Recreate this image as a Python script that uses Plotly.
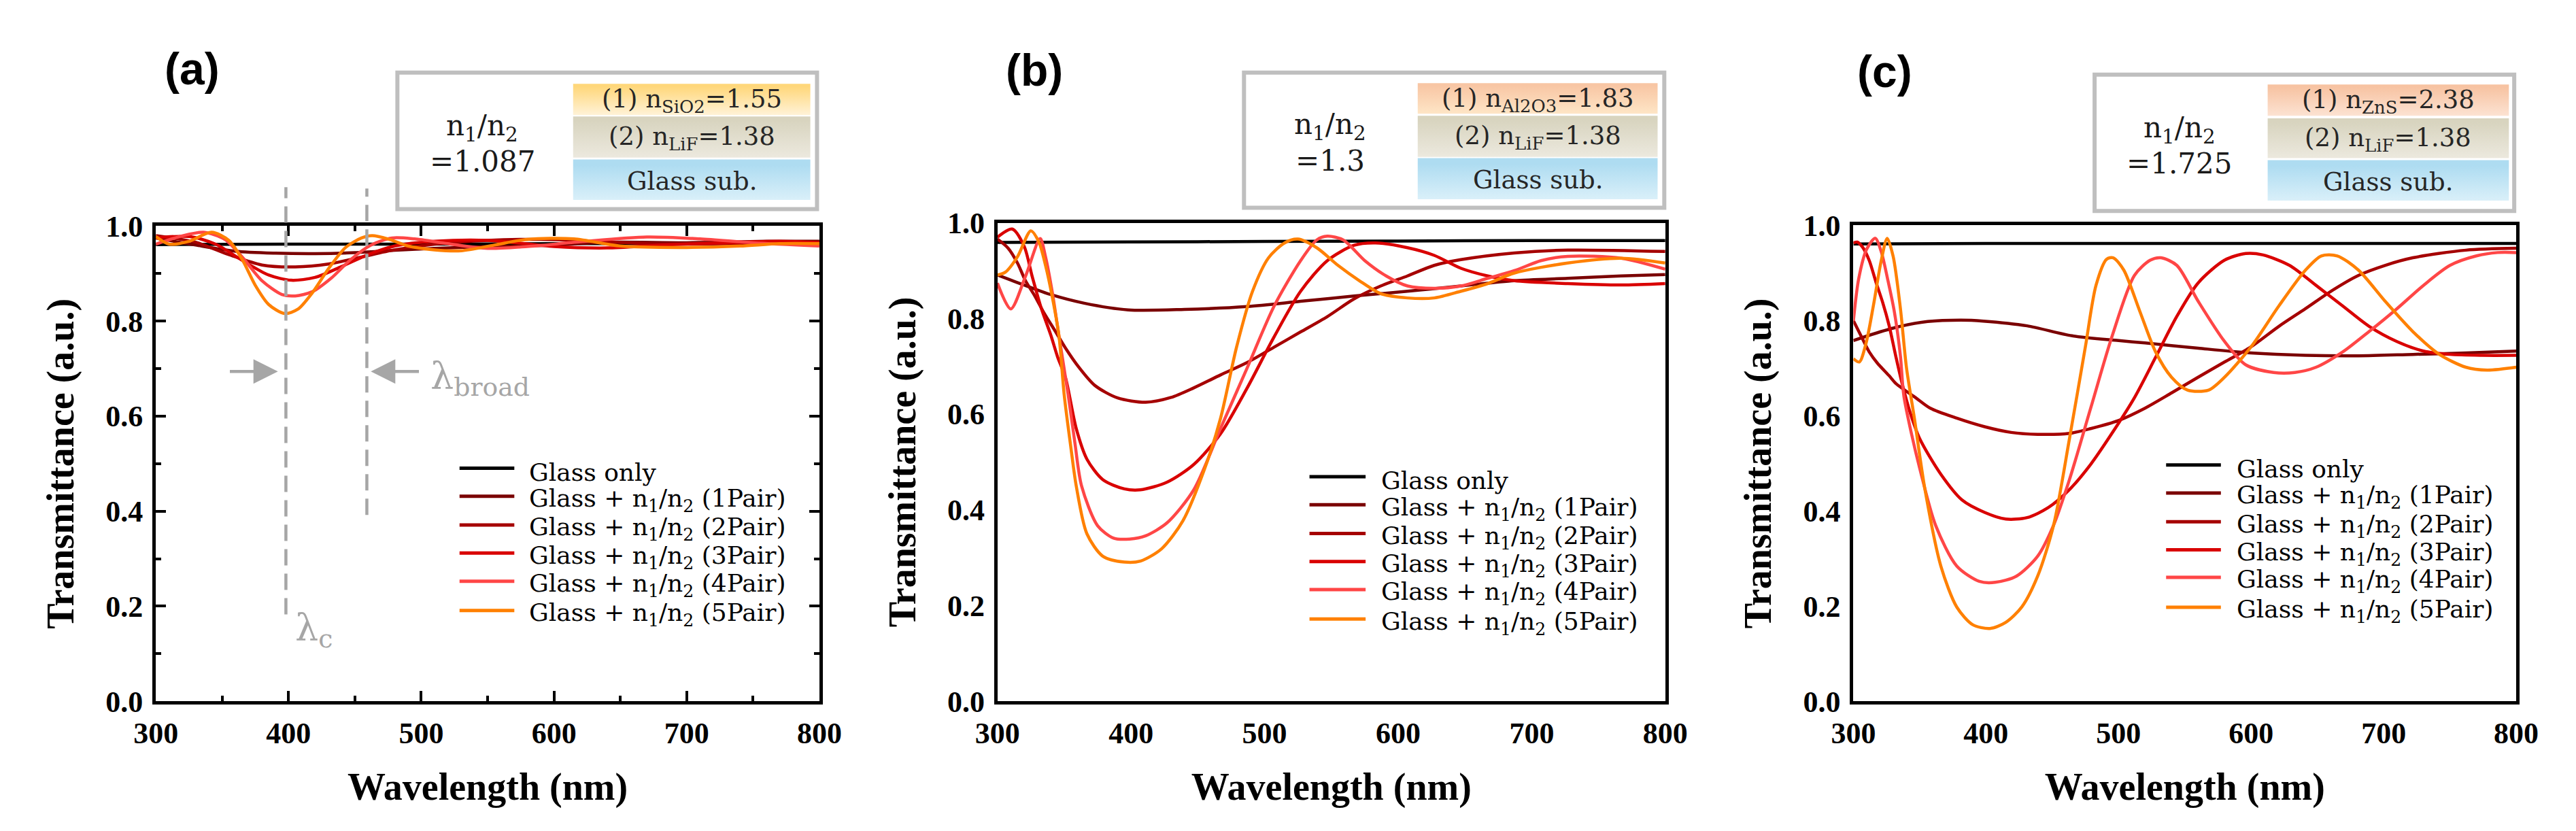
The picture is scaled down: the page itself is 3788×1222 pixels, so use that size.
import plotly.graph_objects as go

W, H = 3788, 1222

# ---------------- data ----------------
wavelength_ticks = [300, 400, 500, 600, 700, 800]
transmittance_ticks = [0.0, 0.2, 0.4, 0.6, 0.8, 1.0]

series_names = [
    "Glass only",
    "Glass + n<sub>1</sub>/n<sub>2</sub> (1Pair)",
    "Glass + n<sub>1</sub>/n<sub>2</sub> (2Pair)",
    "Glass + n<sub>1</sub>/n<sub>2</sub> (3Pair)",
    "Glass + n<sub>1</sub>/n<sub>2</sub> (4Pair)",
    "Glass + n<sub>1</sub>/n<sub>2</sub> (5Pair)",
]
series_colors = ["#000000", "#7a0000", "#a50000", "#d90000", "#ff4646", "#ff8000"]

# (a) SiO2 / LiF
a_glass_x = [300, 400, 500, 600, 700, 800]
a_glass_y = [0.961, 0.962, 0.962, 0.963, 0.963, 0.964]
a_p1_x = [300, 330, 360, 390, 420, 450, 480, 510, 550, 600, 640, 700, 760, 800]
a_p1_y = [0.975, 0.960, 0.947, 0.943, 0.942, 0.944, 0.949, 0.953, 0.957, 0.960, 0.966, 0.965, 0.968, 0.968]
a_p2_x = [300, 330, 355, 380, 405, 430, 455, 480, 510, 550, 590, 630, 680, 730, 800]
a_p2_y = [0.980, 0.966, 0.940, 0.918, 0.914, 0.920, 0.935, 0.950, 0.962, 0.970, 0.972, 0.968, 0.962, 0.963, 0.966]
a_p3_x = [300, 325, 345, 365, 385, 402, 420, 440, 460, 480, 510, 550, 600, 640, 680, 730, 770, 800]
a_p3_y = [0.975, 0.978, 0.962, 0.928, 0.897, 0.886, 0.892, 0.915, 0.940, 0.958, 0.968, 0.970, 0.957, 0.954, 0.960, 0.965, 0.968, 0.965]
a_p4_x = [300, 318, 336, 352, 365, 380, 395, 405, 418, 432, 447, 462, 478, 495, 520, 550, 580, 620, 670, 710, 750, 800]
a_p4_y = [0.962, 0.978, 0.987, 0.972, 0.935, 0.885, 0.856, 0.853, 0.862, 0.890, 0.930, 0.960, 0.975, 0.973, 0.963, 0.953, 0.957, 0.967, 0.977, 0.973, 0.965, 0.958]
a_p5_x = [300, 310, 325, 342, 355, 365, 375, 385, 397, 407, 418, 430, 443, 455, 463, 475, 490, 510, 530, 555, 580, 615, 650, 700, 740, 770, 800]
a_p5_y = [0.978, 0.962, 0.968, 0.987, 0.970, 0.930, 0.875, 0.835, 0.816, 0.825, 0.860, 0.910, 0.955, 0.975, 0.980, 0.973, 0.958, 0.950, 0.948, 0.960, 0.972, 0.973, 0.958, 0.955, 0.958, 0.963, 0.963]

# (b) Al2O3 / LiF
b_glass_x = [300, 400, 500, 600, 700, 800]
b_glass_y = [0.959, 0.960, 0.961, 0.962, 0.963, 0.963]
b_p1_x = [300, 320, 340, 365, 398, 440, 487, 527, 567, 607, 647, 687, 727, 767, 800]
b_p1_y = [0.891, 0.870, 0.850, 0.832, 0.818, 0.819, 0.825, 0.836, 0.847, 0.857, 0.868, 0.879, 0.884, 0.889, 0.892]
b_p2_x = [300, 308, 315, 321, 328, 335, 343, 351, 361, 373, 390, 411, 430, 447, 467, 487, 507, 527, 547, 567, 587, 607, 627, 647, 687, 727, 800]
b_p2_y = [0.966, 0.947, 0.916, 0.879, 0.847, 0.811, 0.775, 0.738, 0.698, 0.660, 0.634, 0.625, 0.635, 0.655, 0.682, 0.708, 0.740, 0.772, 0.804, 0.841, 0.868, 0.889, 0.911, 0.923, 0.937, 0.943, 0.940]
b_p3_x = [300, 311, 320, 326, 333, 340, 345, 351, 359, 367, 379, 395, 407, 427, 447, 467, 487, 507, 527, 547, 567, 583, 607, 627, 647, 667, 687, 727, 767, 800]
b_p3_y = [0.970, 0.987, 0.951, 0.888, 0.820, 0.765, 0.720, 0.676, 0.570, 0.506, 0.463, 0.444, 0.442, 0.458, 0.495, 0.559, 0.655, 0.761, 0.857, 0.921, 0.953, 0.958, 0.948, 0.932, 0.905, 0.889, 0.879, 0.873, 0.870, 0.873]
b_p4_x = [300, 310, 321, 332, 336, 341, 346, 353, 358, 363, 375, 387, 399, 411, 427, 447, 467, 487, 507, 527, 539, 547, 559, 575, 591, 607, 627, 647, 667, 687, 707, 727, 767, 800]
b_p4_y = [0.874, 0.820, 0.888, 0.967, 0.929, 0.856, 0.765, 0.640, 0.540, 0.450, 0.367, 0.341, 0.339, 0.346, 0.373, 0.442, 0.570, 0.697, 0.825, 0.921, 0.964, 0.972, 0.964, 0.921, 0.889, 0.868, 0.863, 0.868, 0.884, 0.900, 0.921, 0.930, 0.926, 0.903]
b_p5_x = [300, 306, 315, 325, 331, 336, 341, 346, 350, 355, 359, 367, 379, 395, 407, 423, 439, 455, 467, 479, 491, 503, 515, 525, 539, 555, 571, 587, 607, 627, 647, 667, 687, 727, 767, 800]
b_p5_y = [0.891, 0.897, 0.929, 0.983, 0.960, 0.911, 0.846, 0.765, 0.640, 0.530, 0.450, 0.350, 0.303, 0.291, 0.293, 0.319, 0.378, 0.485, 0.591, 0.740, 0.857, 0.927, 0.958, 0.966, 0.948, 0.911, 0.879, 0.852, 0.843, 0.843, 0.857, 0.873, 0.895, 0.916, 0.926, 0.916]

# (c) ZnS / LiF
c_glass_x = [300, 400, 500, 600, 700, 800]
c_glass_y = [0.961, 0.962, 0.962, 0.962, 0.962, 0.962]
c_p1_x = [300, 314, 334, 356, 381, 398, 431, 465, 500, 520, 560, 600, 641, 681, 722, 762, 800]
c_p1_y = [0.758, 0.771, 0.787, 0.798, 0.801, 0.799, 0.789, 0.768, 0.758, 0.753, 0.742, 0.732, 0.727, 0.726, 0.729, 0.732, 0.736]
c_p2_x = [300, 307, 312, 318, 327, 332, 347, 358, 378, 399, 419, 439, 463, 479, 500, 520, 540, 560, 580, 600, 621, 641, 661, 681, 701, 722, 762, 800]
c_p2_y = [0.800, 0.761, 0.734, 0.711, 0.684, 0.668, 0.638, 0.616, 0.595, 0.577, 0.565, 0.561, 0.563, 0.573, 0.590, 0.616, 0.648, 0.681, 0.713, 0.745, 0.788, 0.825, 0.863, 0.895, 0.916, 0.932, 0.948, 0.952]
c_p3_x = [300, 303, 307, 312, 317, 322, 327, 332, 337, 343, 350, 366, 382, 399, 415, 431, 447, 463, 479, 495, 512, 528, 544, 560, 580, 596, 609, 629, 649, 669, 689, 710, 730, 750, 774, 800]
c_p3_y = [0.963, 0.965, 0.954, 0.926, 0.881, 0.839, 0.789, 0.725, 0.665, 0.605, 0.552, 0.477, 0.423, 0.397, 0.383, 0.386, 0.407, 0.445, 0.498, 0.563, 0.638, 0.723, 0.809, 0.879, 0.927, 0.941, 0.938, 0.916, 0.874, 0.831, 0.788, 0.756, 0.736, 0.729, 0.727, 0.727]
c_p4_x = [300, 304, 310, 316.5, 321, 326, 331, 335.5, 338, 344, 350, 362, 378, 395, 407, 423, 439, 451, 463, 479, 495, 512, 524, 532, 544, 560, 580, 596, 617, 633, 649, 669, 689, 710, 730, 750, 770, 786, 800]
c_p4_y = [0.799, 0.888, 0.950, 0.973, 0.945, 0.885, 0.817, 0.725, 0.643, 0.560, 0.490, 0.370, 0.284, 0.252, 0.250, 0.263, 0.305, 0.370, 0.466, 0.616, 0.766, 0.895, 0.927, 0.932, 0.916, 0.841, 0.756, 0.707, 0.691, 0.691, 0.702, 0.734, 0.777, 0.825, 0.874, 0.916, 0.936, 0.943, 0.943]
c_p5_x = [300, 304.5, 309.5, 315, 321, 325.5, 330, 335.5, 340, 346, 354, 366, 378, 390, 403, 415, 427, 439, 451, 463, 475, 483, 491, 496, 504, 516, 528, 540, 552, 568, 580, 600, 621, 641, 653, 665, 681, 701, 722, 742, 762, 778, 800]
c_p5_y = [0.720, 0.713, 0.752, 0.830, 0.926, 0.973, 0.935, 0.825, 0.702, 0.595, 0.445, 0.284, 0.198, 0.161, 0.153, 0.166, 0.198, 0.263, 0.370, 0.552, 0.745, 0.874, 0.929, 0.932, 0.906, 0.820, 0.734, 0.681, 0.654, 0.654, 0.681, 0.745, 0.831, 0.906, 0.936, 0.936, 0.906, 0.841, 0.777, 0.729, 0.702, 0.696, 0.702]

# layer stacks shown in the insets
ratio_labels = ["=1.087", "=1.3", "=1.725"]
layer1_labels = ["(1) n<sub>SiO2</sub>=1.55", "(1) n<sub>Al2O3</sub>=1.83", "(1) n<sub>ZnS</sub>=2.38"]
layer2_label = "(2) n<sub>LiF</sub>=1.38"
substrate_label = "Glass sub."
panel_labels = ["(a)", "(b)", "(c)"]


def fx(p):
    return p / W


def fy(p):
    return 1 - p / H


# ---------------- layout geometry (pixels) ----------------
panels = [
    dict(
        xa="x", ya="y",
        plot=(191.5, 313, 1184.6, 1041),
        data=[(a_glass_x, a_glass_y), (a_p1_x, a_p1_y), (a_p2_x, a_p2_y),
              (a_p3_x, a_p3_y), (a_p4_x, a_p4_y), (a_p5_x, a_p5_y)],
        ticks=True,
        label_xy=(246, 72),
        box=(553, 78, 1181, 287), ratio_xy=(680, 162, 214),
        rows_x=(816, 1171), rows_y=[(95, 143), (145, 208), (211, 273)],
        row1_colors=("#ffd77a", "#fff6e4"),
        leg_line=(646, 728), leg_text=748, leg_rows=[684, 727, 771, 814, 857, 902],
    ),
    dict(
        xa="x2", ya="y2",
        plot=(1451, 308, 2450.5, 1041),
        data=[(b_glass_x, b_glass_y), (b_p1_x, b_p1_y), (b_p2_x, b_p2_y),
              (b_p3_x, b_p3_y), (b_p4_x, b_p4_y), (b_p5_x, b_p5_y)],
        ticks=False,
        label_xy=(1506, 74),
        box=(1820, 78, 2449, 285), ratio_xy=(1949, 160, 213),
        rows_x=(2080, 2439), rows_y=[(94, 141), (144, 207), (209, 272)],
        row1_colors=("#f8c6a4", "#ffeacb"),
        leg_line=(1918, 2002), leg_text=2023, leg_rows=[697, 740, 784, 827, 870, 915],
    ),
    dict(
        xa="x3", ya="y3",
        plot=(2732, 312, 3724, 1041),
        data=[(c_glass_x, c_glass_y), (c_p1_x, c_p1_y), (c_p2_x, c_p2_y),
              (c_p3_x, c_p3_y), (c_p4_x, c_p4_y), (c_p5_x, c_p5_y)],
        ticks=False,
        label_xy=(2779, 76),
        box=(3093, 81, 3721, 290), ratio_xy=(3220, 165, 217),
        rows_x=(3352, 3713), rows_y=[(96, 144), (148, 209), (212, 274)],
        row1_colors=("#f7c3a2", "#fde7d9"),
        leg_line=(3200, 3282), leg_text=3304, leg_rows=[679, 722, 766, 809, 851, 897],
    ),
]

row2_colors = ("#d8d4bf", "#efece3")
row3_colors = ("#aedcf1", "#e3f4fb")
gray = "#a6a6a6"

fig = go.Figure()
shapes = []
annotations = []

tick_font = dict(family="Liberation Serif", size=44, color="black", weight="bold")
title_font = dict(family="Liberation Serif", size=56, color="black", weight="bold")
serif = "DejaVu Serif"

for i, p in enumerate(panels):
    x0, y0, x1, y1 = p["plot"]
    # curves
    for k, (xs, ys) in enumerate(p["data"]):
        fig.add_trace(go.Scatter(
            x=xs, y=ys, mode="lines",
            line=dict(color=series_colors[k], width=4.5, shape="spline", smoothing=0.8),
            xaxis=p["xa"], yaxis=p["ya"], showlegend=False, hoverinfo="skip",
        ))

    sfx = "" if i == 0 else str(i + 1)
    xaxis = dict(
        domain=[fx(x0), fx(x1)], anchor="y" + sfx,
        range=[300, 800], tickvals=wavelength_ticks,
        showline=True, linecolor="black", linewidth=5,
        showgrid=False, zeroline=False, tickfont=tick_font, ticklabelstandoff=4,
        title=dict(text="Wavelength (nm)", font=title_font, standoff=36),
    )
    yaxis = dict(
        domain=[fy(y1), fy(y0)], anchor="x" + sfx,
        range=[0, 1.0], tickvals=transmittance_ticks, tickformat=".1f",
        showline=True, linecolor="black", linewidth=5,
        showgrid=False, zeroline=False, tickfont=tick_font, ticklabelstandoff=5,
        title=dict(text="Transmittance (a.u.)", font=title_font, standoff=30),
    )
    if p["ticks"]:
        for ax, minor_d in ((xaxis, 50), (yaxis, 0.1)):
            ax.update(mirror="allticks", ticks="inside", ticklen=15, tickwidth=4,
                      tickcolor="black",
                      minor=dict(ticks="inside", ticklen=8, tickwidth=4,
                                 tickcolor="black", dtick=minor_d))
    else:
        xaxis.update(mirror=True, ticks="")
        yaxis.update(mirror=True, ticks="")
    fig.update_layout({"xaxis" + sfx: xaxis, "yaxis" + sfx: yaxis})

    # panel label
    lx, ly = p["label_xy"]
    annotations.append(dict(
        text=panel_labels[i], x=fx(lx), y=fy(ly), xref="paper", yref="paper",
        showarrow=False, xanchor="center", yanchor="middle",
        font=dict(family="Liberation Sans", size=66, color="black", weight="bold"),
    ))

    # inset frame
    bx0, by0, bx1, by1 = p["box"]
    shapes.append(dict(type="rect", xref="paper", yref="paper",
                       x0=fx(bx0), x1=fx(bx1), y0=fy(by0), y1=fy(by1),
                       line=dict(color="#bfbfbf", width=6), fillcolor="rgba(0,0,0,0)"))
    rx, ry1, ry2 = p["ratio_xy"]
    annotations.append(dict(text="n<sub>1</sub>/n<sub>2</sub>", x=fx(rx), y=fy(ry1),
                            xref="paper", yref="paper", showarrow=False,
                            xanchor="center", yanchor="middle",
                            font=dict(family=serif, size=42, color="#1a1a1a")))
    annotations.append(dict(text=ratio_labels[i], x=fx(rx), y=fy(ry2),
                            xref="paper", yref="paper", showarrow=False,
                            xanchor="center", yanchor="middle",
                            font=dict(family=serif, size=42, color="#1a1a1a")))

    # layer stack with vertical gradients (hidden pixel axis x4/y4)
    cx0, cx1 = p["rows_x"]
    row_cols = [p["row1_colors"], row2_colors, row3_colors]
    row_text = [layer1_labels[i], layer2_label, substrate_label]
    for (ry_top, ry_bot), (c_top, c_bot), txt in zip(p["rows_y"], row_cols, row_text):
        fig.add_trace(go.Scatter(
            x=[cx0, cx1, cx1, cx0, cx0], y=[ry_top, ry_top, ry_bot, ry_bot, ry_top],
            mode="lines", line=dict(width=0), fill="toself",
            fillgradient=dict(type="vertical", start=ry_top, stop=ry_bot,
                              colorscale=[[0, c_top], [1, c_bot]]),
            xaxis="x4", yaxis="y4", showlegend=False, hoverinfo="skip",
        ))
        annotations.append(dict(text=txt, x=fx((cx0 + cx1) / 2), y=fy((ry_top + ry_bot) / 2 + 2),
                                xref="paper", yref="paper", showarrow=False,
                                xanchor="center", yanchor="middle",
                                font=dict(family=serif, size=37, color="#262626")))

    # hand-made legend
    lx0, lx1 = p["leg_line"]
    for k, row in enumerate(p["leg_rows"]):
        shapes.append(dict(type="line", xref="paper", yref="paper",
                           x0=fx(lx0), x1=fx(lx1), y0=fy(row), y1=fy(row),
                           line=dict(color=series_colors[k], width=5)))
        annotations.append(dict(text=series_names[k], x=fx(p["leg_text"]), y=fy(row + 6),
                                xref="paper", yref="paper", showarrow=False,
                                xanchor="left", yanchor="middle",
                                font=dict(family=serif, size=36, color="black")))

# ---------------- panel (a) markers: lambda_c and lambda_broad ----------------
a_y0, a_y1 = panels[0]["plot"][1], panels[0]["plot"][3]


def ty(t):
    # transmittance -> paper y for panel (a)
    return fy(a_y1 - t * (a_y1 - a_y0))


lambda_c = 398
lambda_broad = 459
shapes.append(dict(type="line", xref="x", yref="paper", x0=lambda_c, x1=lambda_c,
                   y0=ty(0.183), y1=ty(1.082),
                   line=dict(color=gray, width=4.5, dash="24px,12px")))
shapes.append(dict(type="line", xref="x", yref="paper", x0=lambda_broad, x1=lambda_broad,
                   y0=ty(0.392), y1=ty(1.079),
                   line=dict(color=gray, width=4.5, dash="24px,12px")))

arrow = dict(xref="x", yref="y", axref="x", ayref="y", text="", showarrow=True,
             arrowhead=2, arrowsize=1.6, arrowwidth=4.5, arrowcolor=gray)
annotations.append(dict(arrow, x=392, y=0.694, ax=355, ay=0.694))
annotations.append(dict(arrow, x=462, y=0.694, ax=499, ay=0.694))
annotations.append(dict(text="λ<sub>c</sub>", x=404, y=0.15, xref="x", yref="y",
                        showarrow=False, xanchor="left", yanchor="middle",
                        font=dict(family=serif, size=54, color=gray)))
annotations.append(dict(text="λ<sub>broad</sub>", x=506, y=0.68, xref="x", yref="y",
                        showarrow=False, xanchor="left", yanchor="middle",
                        font=dict(family=serif, size=54, color=gray)))

fig.update_layout(
    width=W, height=H,
    margin=dict(l=0, r=0, t=0, b=0),
    paper_bgcolor="white", plot_bgcolor="rgba(0,0,0,0)",
    showlegend=False,
    xaxis4=dict(domain=[0, 1], range=[0, W], visible=False, anchor="y4", fixedrange=True),
    yaxis4=dict(domain=[0, 1], range=[H, 0], visible=False, anchor="x4", fixedrange=True),
    shapes=shapes,
    annotations=annotations,
)

fig.write_html("out.html")
